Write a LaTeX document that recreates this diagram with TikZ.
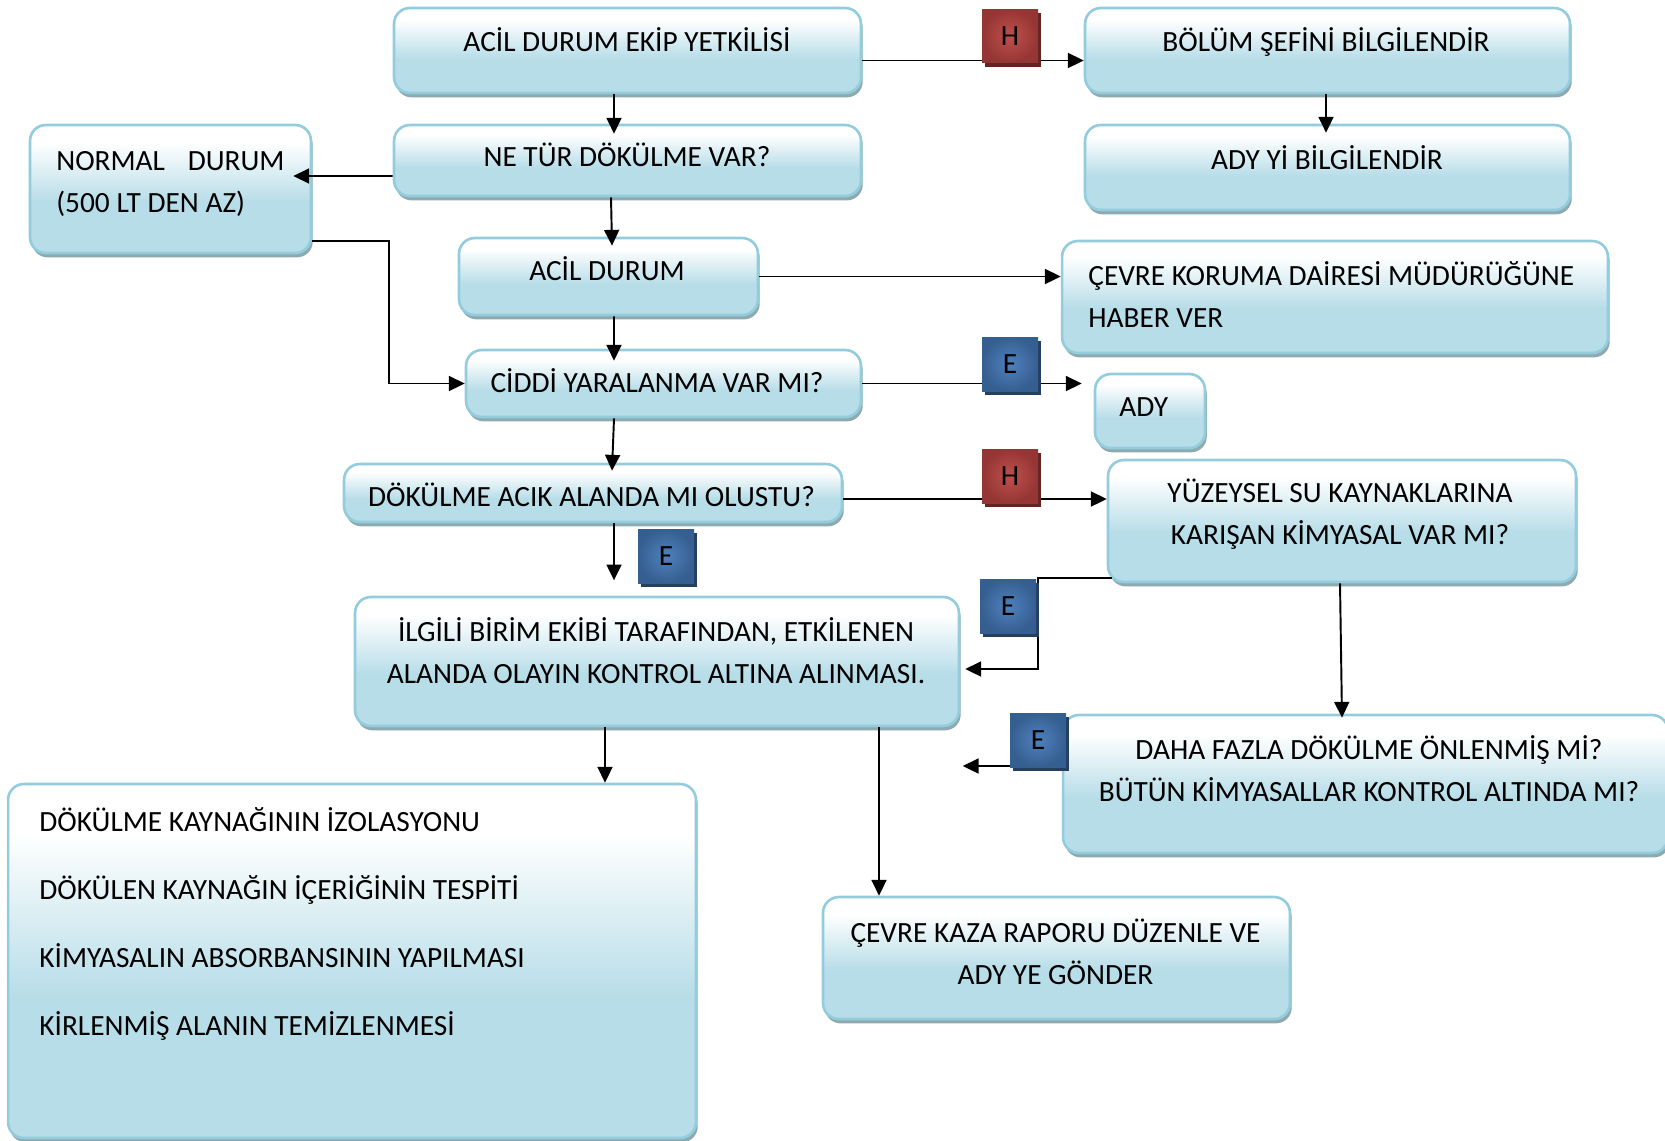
\documentclass[tikz,border=0pt]{standalone}
\usepackage{fontspec}
\setmainfont{Carlito}
\usetikzlibrary{arrows.meta,calc,shadows}

\definecolor{boxline}{HTML}{93CDDD}
\definecolor{boxblue}{HTML}{B7DDE8}
\definecolor{boxshadow}{HTML}{8EA9B0}
\definecolor{redtag}{HTML}{943634}
\definecolor{redtaglight}{HTML}{C0504D}
\definecolor{redtagshadow}{HTML}{632523}
\definecolor{bluetag}{HTML}{365F91}
\definecolor{bluetaglight}{HTML}{4F81BD}
\definecolor{bluetagshadow}{HTML}{243F60}

\pgfdeclareverticalshading{boxshade}{100bp}{color(0bp)=(boxblue); color(45bp)=(boxblue); color(68bp)=(white); color(100bp)=(white)}

\tikzset{
    box/.style={draw=boxline, line width=1.5pt, rounded corners=9pt, shading=boxshade,
        inner sep=0pt, drop shadow={shadow xshift=1pt, shadow yshift=-2.5pt, fill=boxshadow, opacity=1}},
    txt/.style={align=center, inner sep=0pt, anchor=base, font=\fontsize{16.7}{23.8}\selectfont},
    tag/.style={minimum width=1.12cm, minimum height=1.08cm, inner sep=0pt, font=\fontsize{16.7}{20}\selectfont},
    htag/.style={tag, inner color=redtaglight, outer color=redtag,
        drop shadow={shadow xshift=1.5pt, shadow yshift=-2.5pt, fill=redtagshadow, opacity=1}},
    etag/.style={tag, inner color=bluetaglight, outer color=bluetag,
        drop shadow={shadow xshift=1.5pt, shadow yshift=-2.5pt, fill=bluetagshadow, opacity=1}},
    arr/.style={-{Triangle[length=9pt,width=8.5pt]}, line width=1.1pt},
}

\begin{document}
\begin{tikzpicture}[x=0.02cm, y=-0.02cm]
\useasboundingbox (0,0) rectangle (1665,1140);

% boxes, left column
\node[box, minimum width=9.34cm, minimum height=1.70cm] (yetkili) at (627.5,50.5) {};
\node[box, minimum width=9.34cm, minimum height=1.42cm] (tur) at (627.5,160.5) {};
\node[box, minimum width=5.62cm, minimum height=2.56cm] (normal) at (170.5,189) {};
\node[box, minimum width=5.98cm, minimum height=1.54cm] (acil) at (608.5,276.5) {};
\node[box, minimum width=7.90cm, minimum height=1.34cm] (yara) at (663.5,383.5) {};
\node[box, minimum width=9.96cm, minimum height=1.16cm] (acik) at (593,493) {};
\node[box, minimum width=12.08cm, minimum height=2.58cm] (kontrol) at (657,661.5) {};
\node[box, minimum width=13.76cm, minimum height=7.08cm] (liste) at (352,961) {};
\node[box, minimum width=9.34cm, minimum height=2.44cm] (rapor) at (1056.5,958) {};

% boxes, right column
\node[box, minimum width=9.70cm, minimum height=1.70cm] (sef) at (1327.5,50.5) {};
\node[box, minimum width=9.70cm, minimum height=1.70cm] (adybil) at (1327.5,167.5) {};
\node[box, minimum width=10.92cm, minimum height=2.24cm] (cevre) at (1335,297) {};
\node[box, minimum width=2.20cm, minimum height=1.48cm] (ady) at (1150,411) {};
\node[box, minimum width=9.36cm, minimum height=2.44cm] (yuzey) at (1342,521) {};
\node[box, minimum width=12.10cm, minimum height=2.76cm] (fazla) at (1365.5,784) {};

% texts (multi-line ones sit on their last baseline)
\node[txt] (yetkili-t) at (627,51.5) {ACİL DURUM EKİP YETKİLİSİ};
\node[txt] (tur-t) at (627,166) {NE TÜR DÖKÜLME VAR?};
\node[txt, align=left, anchor=base west] (normal-t) at (56,212) {NORMAL\hspace{0.55em} DURUM\\(500 LT DEN AZ)};
\node[txt] (acil-t) at (607,280) {ACİL DURUM};
\node[txt] (yara-t) at (657,392) {CİDDİ YARALANMA VAR MI?};
\node[txt] (acik-t) at (591.5,506) {DÖKÜLME ACIK ALANDA MI OLUSTU?};
\node[txt] (kontrol-t) at (656,683) {İLGİLİ BİRİM EKİBİ TARAFINDAN, ETKİLENEN\\ALANDA OLAYIN KONTROL ALTINA ALINMASI.};
\node[txt, align=left, anchor=base west, font=\fontsize{16.7}{38.6}\selectfont] (liste-t) at (39,1035)
    {DÖKÜLME KAYNAĞININ İZOLASYONU\\DÖKÜLEN KAYNAĞIN İÇERİĞİNİN TESPİTİ\\KİMYASALIN ABSORBANSININ YAPILMASI\\KİRLENMİŞ ALANIN TEMİZLENMESİ};
\node[txt] (rapor-t) at (1055.5,984) {ÇEVRE KAZA RAPORU DÜZENLE VE\\ADY YE GÖNDER};
\node[txt] (sef-t) at (1326,51.5) {BÖLÜM ŞEFİNİ BİLGİLENDİR};
\node[txt] (adybil-t) at (1327,169) {ADY Yİ BİLGİLENDİR};
\node[txt, align=left, anchor=base west] (cevre-t) at (1088,327) {ÇEVRE KORUMA DAİRESİ MÜDÜRÜĞÜNE\\HABER VER};
\node[txt, anchor=base west] (ady-t) at (1119,416) {ADY};
\node[txt] (yuzey-t) at (1340,544) {YÜZEYSEL SU KAYNAKLARINA\\KARIŞAN KİMYASAL VAR MI?};
\node[txt] (fazla-t) at (1369,801) {DAHA FAZLA DÖKÜLME ÖNLENMİŞ Mİ?\\BÜTÜN KİMYASALLAR KONTROL ALTINDA MI?};

% connectors
\draw[arr] ($(yetkili.east)+(0,10)$) -- ($(sef.west)+(0,10)$);
\draw[arr] ($(yetkili.south)+(-13.5,0)$) -- ($(tur.north)+(-13.5,10)$);
\draw[arr] ($(sef.south)+(-1.5,0)$) -- ($(adybil.north)+(-1.5,9)$);
\draw[arr] ($(tur.west)+(0,15.5)$) -- ($(normal.east)+(-19,-13)$);
\draw[arr] ($(tur.south)+(-16.5,0)$) -- ($(acil.north)+(3.5,9)$);
\draw[arr] ($(normal.east)+(0,52)$) -- ++(77,0) |- (yara.west);
\draw[arr] (acil.east) -- (acil.east -| cevre.west);
\draw[arr] ($(acil.south)+(5.5,0)$) -- ($(yara.north)+(-49.5,12)$);
\draw[arr] (yara.east) -- ($(yara.east -| ady.west)+(-12,0)$);
\draw[arr] ($(yara.south)+(-49.5,0)$) -- ($(acik.north)+(19,8)$);
\draw[arr] ($(acik.east)+(0,6)$) -- ($(acik.east -| yuzey.west)+(0,6)$);
\draw[arr] ($(acik.south)+(21,0)$) -- ++(0,57);
\draw[arr] ($(yuzey.south west)+(5,-5)$) -- ++(-74,0) |- ($(kontrol.east)+(5,7.5)$);
\draw[arr] ($(yuzey.south)+(-2,0)$) -- ($(fazla.north)+(-23.5,4)$);
\draw[arr] ($(fazla.west)+(0,-18)$) -- ++(-99,0);
\draw[arr] ($(kontrol.south)+(-52,0)$) -- ($(liste.north)+(253,0)$);
\draw[arr] ($(kontrol.south)+(222,0)$) -- ($(rapor.north)+(-177.5,0)$);

% H / E tags
\node[htag] (h1) at (1010,36) {H};
\node[etag] (e1) at (1010,364) {E};
\node[htag] (h2) at (1010,476) {H};
\node[etag] (e2) at (666,556) {E};
\node[etag] (e3) at (1008,606) {E};
\node[etag] (e4) at (1038,740) {E};

\end{tikzpicture}
\end{document}
